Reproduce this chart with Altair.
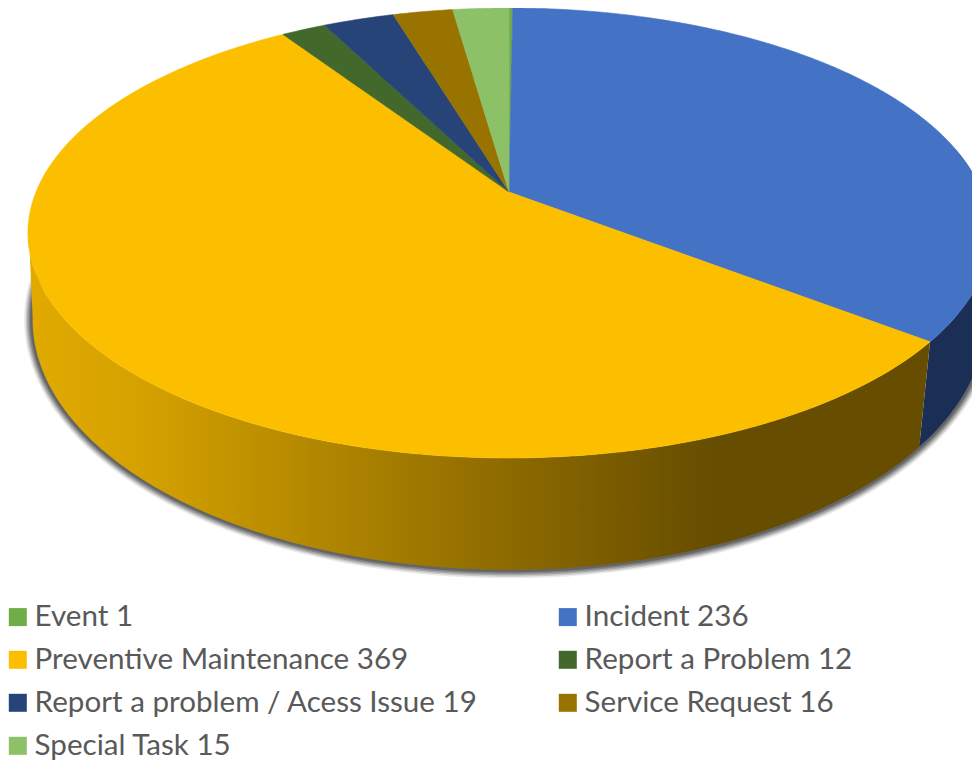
import math
import altair as alt

categories = ["Event", "Incident", "Preventive Maintenance", "Report a Problem",
              "Report a problem / Acess Issue", "Service Request", "Special Task"]
values = [1, 236, 369, 12, 19, 16, 15]
colors = ["#70ad47", "#4472c4", "#fcbf00", "#43682b", "#264478", "#997300", "#8cc168"]
labels = [f"{c} {v}" for c, v in zip(categories, values)]

# ---- perspective of the tilted disc (top rim / bottom rim) ----
CX = 509
TOP = dict(a=473, b=217.5, k=0.1822, y0=192)
BOTTOM = dict(a=471, b=244.6, k=0.15, y0=282)


def rim(deg, p):
    t = math.radians(deg)
    sx, sy = math.sin(t), -math.cos(t)
    d = 1 - p["k"] * sy
    return [CX + p["a"] * sx / d, p["y0"] + p["b"] * sy / d]


def arc(d0, d1, p, step=1.0):
    n = max(2, int(abs(d1 - d0) / step) + 1)
    return [rim(d0 + (d1 - d0) * i / (n - 1), p) for i in range(n)]


def feature(points, **props):
    pts = points + [points[0]]
    return {"type": "Feature", "properties": props,
            "geometry": {"type": "Polygon", "coordinates": [pts]}}


total = sum(values)
edges = [0.0]
for v in values:
    edges.append(edges[-1] + v / total * 360)

slices = [
    feature([[CX, TOP["y0"]]] + arc(edges[i], edges[i + 1], TOP, 0.5), label=labels[i])
    for i in range(len(values))
]
incident_end = edges[2]
LEFT_TANGENT = 262
RIGHT_TANGENT = 78
yellow_wall = feature(arc(incident_end, LEFT_TANGENT, TOP) + arc(LEFT_TANGENT, incident_end, BOTTOM))
blue_wall = feature(arc(RIGHT_TANGENT, incident_end, TOP) + arc(incident_end, RIGHT_TANGENT, BOTTOM))
floor_disc = feature(arc(0, 359, BOTTOM))


def geo(features):
    return alt.Chart(alt.Data(values=features)).project(
        type="identity", scale=1, translate=[-8, -8]
    )


shadow_layers = [
    geo([floor_disc]).mark_geoshape(fill="#555555", fillOpacity=0,
                                    stroke="#3a3a3a", strokeWidth=w, strokeOpacity=o,
                                    strokeJoin="round", clip=True)
    for w, o in [(17, 0.10), (14, 0.18), (11, 0.25), (8, 0.32), (5, 0.4)]
]

wall_gradient = alt.Gradient(
    gradient="linear", x1=0, y1=0, x2=1, y2=0,
    stops=[
        alt.GradientStop(offset=0.0, color="#e0aa00"),
        alt.GradientStop(offset=0.12, color="#d6a200"),
        alt.GradientStop(offset=0.30, color="#b68a00"),
        alt.GradientStop(offset=0.52, color="#8f6c00"),
        alt.GradientStop(offset=0.76, color="#664d00"),
        alt.GradientStop(offset=1.0, color="#664d00"),
    ],
)
yellow = geo([yellow_wall]).mark_geoshape(fill=wall_gradient, strokeWidth=0, clip=True)
blue = geo([blue_wall]).mark_geoshape(fill="#1b2f56", strokeWidth=0, clip=True)

scale = alt.Scale(domain=labels, range=colors)
top = geo(slices).mark_geoshape(strokeWidth=0.6, clip=True).encode(
    color=alt.Color(
        "properties.label:N", scale=scale, sort=labels,
        legend=alt.Legend(
            title=None, orient="none", legendX=-5, legendY=594, direction="horizontal",
            columns=2, columnPadding=75, rowPadding=12, gridAlign="each",
            symbolType="square", symbolSize=324, symbolStrokeWidth=0, symbolOpacity=1,
            labelFont="Lato", labelFontSize=29.6, labelColor="#595959", labelOffset=2,
            labelLimit=600, padding=0,
        ),
    ),
    stroke=alt.Stroke("properties.label:N", scale=scale, legend=None),
)

chart = alt.layer(*shadow_layers, blue, yellow, top).properties(
    width=964, height=754, padding=0,
    autosize=alt.AutoSizeParams(type="none"),
).configure_view(stroke=None)

chart.save("out.html", embed_options={"renderer": "svg", "actions": False})
